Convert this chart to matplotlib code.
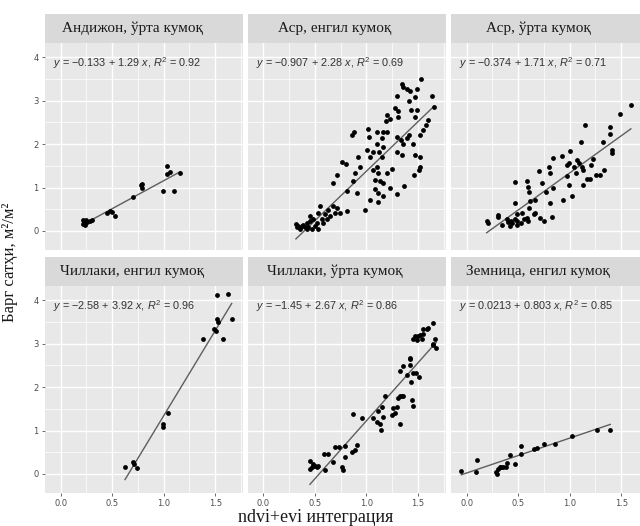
import matplotlib
matplotlib.use("Agg")
import matplotlib.pyplot as plt
from matplotlib.ticker import FixedLocator, MultipleLocator
import numpy as np

plt.rcParams['mathtext.fontset'] = 'custom'
plt.rcParams['mathtext.rm'] = 'Liberation Sans'
plt.rcParams['mathtext.it'] = 'Liberation Sans:italic'

# ---------------- data ----------------
panel_titles = ["Андижон, ўрта кумоқ", "Аср, енгил кумоқ", "Аср, ўрта кумоқ",
                "Чиллаки, енгил кумоқ", "Чиллаки, ўрта кумоқ", "Земница, енгил кумоқ"]

intercepts = [-0.133, -0.907, -0.374, -2.58, -1.45, 0.0213]
slopes = [1.29, 2.28, 1.71, 3.92, 2.67, 0.803]
r_squared = [0.92, 0.69, 0.71, 0.96, 0.86, 0.85]

andijon_x = [0.22, 0.23, 0.24, 0.25, 0.26, 0.28, 0.30, 0.22, 0.24, 0.45, 0.48, 0.50, 0.53,
             0.70, 0.78, 0.79, 0.79, 0.99, 1.03, 1.03, 1.06, 1.10, 1.16]
andijon_y = [0.15, 0.22, 0.18, 0.25, 0.20, 0.22, 0.25, 0.25, 0.13, 0.42, 0.45, 0.43, 0.35,
             0.77, 1.05, 1.00, 1.08, 0.93, 1.50, 1.31, 1.35, 0.93, 1.34]

asr_light_x = [1.528, 1.343, 1.36, 1.392, 1.424, 1.495, 1.295, 1.418, 1.473, 1.279, 1.31, 1.43,
               1.495, 1.198, 1.23, 1.31, 1.473, 1.188, 1.58, 1.547, 0.88, 0.858, 1.02, 1.03,
               1.10, 1.165, 1.198, 1.149, 1.295, 1.333, 1.392, 1.418, 1.521, 1.456, 1.36, 1.10,
               1.165, 1.003, 1.068, 1.126, 1.295, 1.343, 1.473, 1.521, 0.761, 0.803, 0.922,
               1.036, 1.149, 1.521, 1.515, 0.712, 0.89, 0.939, 1.068, 1.10, 1.117, 1.198, 1.246,
               1.463, 0.673, 0.874, 1.084, 1.133, 1.165, 1.369, 0.81, 0.906, 1.084, 1.117, 1.23,
               1.165, 1.295, 1.036, 1.117, 0.987, 0.55, 0.631, 0.673, 0.712, 0.745, 0.696, 0.534,
               0.599, 0.648, 0.81, 0.453, 0.486, 0.567, 0.615, 0.421, 0.453, 0.518, 0.583, 0.317,
               0.34, 0.372, 0.405, 0.437, 0.47, 0.324, 0.389, 0.502, 0.534, 0.356, 0.421, 1.64,
               1.60, 1.66]
asr_light_y = [3.51, 3.38, 3.32, 3.27, 3.23, 3.27, 3.11, 3.00, 3.08, 2.83, 2.77, 2.79,
               2.79, 2.66, 2.57, 2.62, 2.62, 2.53, 2.43, 2.32, 2.28, 2.20, 2.35, 2.17,
               2.29, 2.28, 2.28, 2.13, 2.17, 2.09, 2.13, 2.20, 2.20, 2.01, 2.01, 2.01,
               1.94, 1.86, 1.82, 1.82, 1.82, 1.75, 1.75, 1.71, 1.59, 1.54, 1.71,
               1.71, 1.71, 1.48, 1.41, 1.29, 1.33, 1.48, 1.41, 1.48, 1.33, 1.33, 1.42,
               1.29, 1.10, 1.14, 1.18, 1.14, 1.10, 1.03, 0.91, 0.87, 0.97, 0.87, 0.99,
               0.80, 0.84, 0.72, 0.66, 0.48, 0.57, 0.49, 0.57, 0.53, 0.42, 0.42, 0.42,
               0.38, 0.34, 0.46, 0.34, 0.27, 0.27, 0.27, 0.19, 0.23, 0.18, 0.19, 0.15,
               0.11, 0.11, 0.08, 0.08, 0.05, 0.08, 0.13, 0.11, 0.05, 0.04, 0.04, 3.10,
               2.55, 2.85]

asr_medium_x = [1.594, 1.49, 1.152, 1.387, 1.387, 1.113, 1.323, 1.41, 1.41, 0.839, 0.926, 1.007,
                1.071, 1.226, 0.974, 0.99, 1.039, 1.087, 1.12, 1.21, 0.797, 0.70, 0.813, 0.974,
                1.065, 1.129, 1.168, 1.20, 1.255, 1.297, 1.336, 0.474, 0.581, 0.732, 0.99, 1.126,
                0.594, 0.603, 0.774, 0.839, 0.668, 0.613, 0.807, 0.936, 1.023, 0.474, 0.603,
                0.539, 0.668, 0.71, 0.755, 0.829, 0.49, 0.465, 0.581, 0.594, 0.555, 0.303, 0.303,
                0.387, 0.40, 0.426, 0.442, 0.484, 0.523, 0.345, 0.42, 0.484, 0.194, 0.207, 0.652]
asr_medium_y = [2.89, 2.70, 2.43, 2.39, 2.24, 2.05, 2.05, 1.86, 1.79, 1.69, 1.72, 1.85,
                1.63, 1.65, 1.52, 1.56, 1.48, 1.57, 1.48, 1.52, 1.48, 1.37, 1.34, 1.27,
                1.33, 1.41, 1.20, 1.20, 1.28, 1.29, 1.41, 1.12, 1.16, 1.10, 1.06, 1.06,
                1.01, 0.89, 0.89, 0.99, 0.72, 0.69, 0.65, 0.72, 0.81, 0.65, 0.53,
                0.42, 0.42, 0.30, 0.23, 0.33, 0.38, 0.28, 0.30, 0.23, 0.27, 0.36, 0.31,
                0.27, 0.21, 0.23, 0.18, 0.23, 0.19, 0.13, 0.12, 0.13, 0.23, 0.18, 0.38]

chillaki_light_x = [0.625, 0.705, 0.715, 0.738, 0.99, 0.99, 1.039, 1.379, 1.489, 1.515, 1.62,
                    1.52, 1.53, 1.66, 1.58, 1.51]
chillaki_light_y = [0.155, 0.27, 0.23, 0.13, 1.16, 1.09, 1.41, 3.11, 3.34, 4.12, 4.14,
                    3.57, 3.51, 3.57, 3.11, 3.30]

chillaki_medium_x = [0.453, 0.453, 0.486, 0.502, 0.518, 0.47, 0.534, 0.599, 0.589, 0.631, 0.673,
                     0.696, 0.738, 0.793, 0.761, 0.77, 0.793, 0.858, 0.89, 0.906, 0.874, 0.955,
                     1.068, 1.10, 1.133, 1.139, 1.165, 1.117, 1.149, 1.181, 1.246, 1.262, 1.279,
                     1.295, 1.327, 1.327, 1.343, 1.36, 1.311, 1.44, 1.457, 1.327, 1.36, 1.392,
                     1.424, 1.424, 1.43, 1.457, 1.483, 1.515, 1.424, 1.457, 1.473, 1.505, 1.521,
                     1.537, 1.547, 1.489, 1.554, 1.60, 1.645, 1.59, 1.67, 1.65, 1.645, 1.68]
chillaki_medium_y = [0.295, 0.115, 0.23, 0.19, 0.155, 0.17, 0.19, 0.08, 0.45, 0.45, 0.27,
                     0.62, 0.62, 0.64, 0.155, 0.08, 0.39, 0.50, 0.54, 0.66, 1.38, 1.28,
                     1.28, 1.20, 1.16, 1.01, 1.32, 1.44, 1.55, 1.79, 1.36, 1.51, 1.40,
                     1.55, 1.16, 1.79, 1.79, 1.79, 1.75, 1.71, 1.57, 2.37, 2.49, 2.29,
                     2.52, 2.68, 2.11, 2.33, 2.33, 2.24, 2.64, 3.11, 3.17, 3.17, 3.20,
                     3.11, 3.22, 3.09, 3.34, 3.36, 3.48, 3.34, 3.11, 2.99, 2.96, 2.89]

zemnitsa_x = [-0.051, 0.087, 0.103, 0.281, 0.297, 0.303, 0.323, 0.336, 0.355, 0.378, 0.394,
              0.42, 0.465, 0.523, 0.523, 0.652, 0.678, 0.755, 0.861, 1.023, 1.265, 1.394]
zemnitsa_y = [0.06, 0.04, 0.325, 0.04, 0.00, 0.115, 0.17, 0.155, 0.17, 0.17, 0.25,
              0.43, 0.22, 0.45, 0.64, 0.58, 0.60, 0.70, 0.70, 0.87, 1.01, 1.02]

panel_x = [andijon_x, asr_light_x, asr_medium_x, chillaki_light_x, chillaki_medium_x, zemnitsa_x]
panel_y = [andijon_y, asr_light_y, asr_medium_y, chillaki_light_y, chillaki_medium_y, zemnitsa_y]

x_ticks = [0.0, 0.5, 1.0, 1.5]
x_tick_labels = ["0.0", "0.5", "1.0", "1.5"]
y_ticks = [0, 1, 2, 3, 4]
y_tick_labels = ["0", "1", "2", "3", "4"]

x_label = "ndvi+evi интеграция"
y_label = "Барг сатҳи, м²/м²"

# ---------------- layout ----------------
W, H = 640, 526
fig = plt.figure(figsize=(W / 100, H / 100), dpi=100)
fig.patch.set_facecolor("white")

col_left = [45, 247.6, 451]
row_top = [43, 286]
pw, ph = 198, 207
strip_h = 29
xlim = (-0.152, 1.77)
ylim = (-0.44, 4.33)

panel_bg = "#E8E8E8"
strip_bg = "#D9D9D9"


def fmt(v):
    s = f"{v:.3g}"
    return s.replace("-", "\u2212")


for i in range(6):
    r, c = divmod(i, 3)
    l, t = col_left[c], row_top[r]
    ax = fig.add_axes([l / W, 1 - (t + ph) / H, pw / W, ph / H])
    ax.set_facecolor(panel_bg)
    for s in ax.spines.values():
        s.set_visible(False)
    ax.set_xlim(*xlim)
    ax.set_ylim(*ylim)
    ax.xaxis.set_major_locator(FixedLocator(x_ticks))
    ax.yaxis.set_major_locator(FixedLocator(y_ticks))
    ax.xaxis.set_minor_locator(MultipleLocator(0.25))
    ax.yaxis.set_minor_locator(MultipleLocator(0.5))
    ax.grid(which="major", color="white", linewidth=1.0)
    ax.grid(which="minor", color="white", linewidth=0.5)
    ax.set_axisbelow(True)
    ax.tick_params(which="minor", length=0)
    ax.tick_params(which="major", length=2.5, width=0.6, color="#555555",
                   labelsize=6, labelcolor="#4D4D4D", pad=2)
    if r == 1:
        ax.set_xticklabels(x_tick_labels)
    else:
        ax.tick_params(axis="x", which="major", length=0, labelbottom=False)
    if c == 0:
        ax.set_yticklabels(y_tick_labels)
    else:
        ax.tick_params(axis="y", which="major", length=0, labelleft=False)

    xs = np.array(panel_x[i])
    ys = np.array(panel_y[i])
    ax.scatter(xs, ys, s=12, color="black", zorder=3, linewidths=0)
    lx = np.array([xs.min(), xs.max()])
    ax.plot(lx, intercepts[i] + slopes[i] * lx, color="#5E5E5E", lw=1.0, zorder=2)

    eq = (r"$\it{y}$ = " + fmt(intercepts[i]) + " + " + fmt(slopes[i]) +
          r" $\it{x}$, $\it{R}^{2}$ = " + f"{r_squared[i]:.2f}")
    ax.text(8 / pw, 1 - 20 / ph, eq, transform=ax.transAxes, ha="left", va="center",
            fontsize=7.8, color="#333333", family="Liberation Sans")

    sax = fig.add_axes([l / W, 1 - t / H, pw / W, strip_h / H])
    sax.set_facecolor(strip_bg)
    sax.set_xticks([])
    sax.set_yticks([])
    for s in sax.spines.values():
        s.set_visible(False)
    sax.text(0.5 - 12 / pw, 0.5, panel_titles[i], transform=sax.transAxes, ha="center",
             va="center", fontsize=11, family="Liberation Serif", color="#1A1A1A")

fig.text(316 / W, 1 - 517 / H, x_label, ha="center", va="center", fontsize=13,
         family="Liberation Serif", color="#1A1A1A")
fig.text(10 / W, 1 - 262 / H, y_label, ha="center", va="center", rotation=90,
         fontsize=12, family="Liberation Serif", color="#1A1A1A")

fig.savefig("out.png", dpi=100)
